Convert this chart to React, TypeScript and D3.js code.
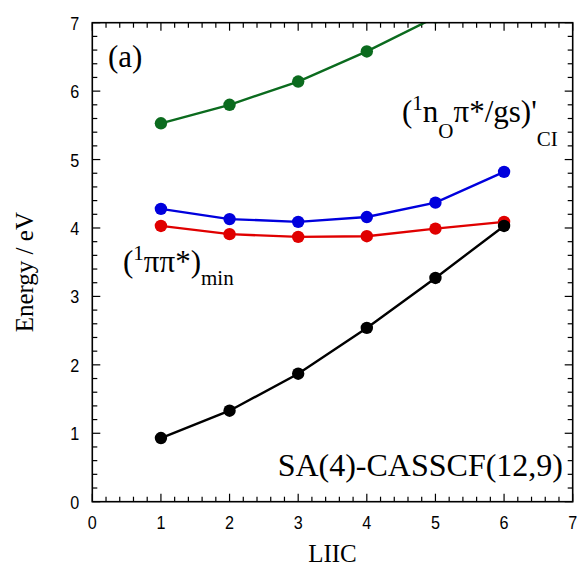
import React from "react";
import * as d3 from "d3";

const liic = [1, 2, 3, 4, 5, 6];
const greenVals = [5.53, 5.8, 6.14, 6.58, 7.08];
const blueVals = [4.28, 4.13, 4.09, 4.16, 4.37, 4.82];
const redVals = [4.03, 3.91, 3.87, 3.88, 3.99, 4.09];
const blackVals = [0.93, 1.33, 1.87, 2.54, 3.27, 4.03];
const xTicks = [0, 1, 2, 3, 4, 5, 6, 7];
const yTicks = [0, 1, 2, 3, 4, 5, 6, 7];

const W = 579, H = 570;
const L = 92.3, R = 572.7, T = 22.7, B = 501.7;

const serif = "'Liberation Serif', 'Times New Roman', serif";
const narrow = "'Liberation Sans Narrow', 'Liberation Sans', Arial, sans-serif";

export default function App() {
  const x = d3.scaleLinear().domain([0, 7]).range([L, R]);
  const y = d3.scaleLinear().domain([0, 7]).range([B, T]);
  const minor = d3.range(0, 7.001, 0.2);

  const series = [
    { vals: greenVals, color: "#0b6b1e" },
    { vals: blueVals, color: "#0000dd" },
    { vals: redVals, color: "#e00000" },
    { vals: blackVals, color: "#000000" },
  ];
  const line = (vals: number[]) =>
    d3.line<number>().x((_, i) => x(liic[i])).y((d) => y(d))(vals) || "";

  return (
    <svg width={W} height={H} style={{ position: "absolute", left: 0, top: 0, background: "#fff" }}>
      <defs>
        <clipPath id="plot">
          <rect x={L} y={T} width={R - L} height={B - T} />
        </clipPath>
      </defs>
      <g stroke="#000" strokeWidth={1.2}>
        {minor.map((v, i) => {
          const major = Math.abs(v - Math.round(v)) < 1e-6;
          const len = major ? 8 : 5;
          return (
            <g key={i}>
              <line x1={x(v)} x2={x(v)} y1={B} y2={B - len} />
              <line x1={x(v)} x2={x(v)} y1={T} y2={T + len} />
              <line x1={L} x2={L + len} y1={y(v)} y2={y(v)} />
              <line x1={R} x2={R - len} y1={y(v)} y2={y(v)} />
            </g>
          );
        })}
      </g>
      <g clipPath="url(#plot)">
        {series.map((s, k) => (
          <g key={k}>
            <path d={line(s.vals)} fill="none" stroke={s.color} strokeWidth={2.4} />
            {s.vals.map((v, i) => (
              <circle key={i} cx={x(liic[i])} cy={y(v)} r={6.2} fill={s.color} />
            ))}
          </g>
        ))}
      </g>
      <rect x={L} y={T} width={R - L} height={B - T} fill="none" stroke="#000" strokeWidth={1.6} />
      <g fontFamily={narrow} fontSize={19} fill="#000">
        {xTicks.map((t) => (
          <g key={t} transform={`translate(${x(t)},${B + 27}) scale(0.85,1)`}>
            <text textAnchor="middle">{t}</text>
          </g>
        ))}
        {yTicks.map((t) => (
          <g key={t} transform={`translate(${L - 13},${y(t) + 7}) scale(0.85,1)`}>
            <text textAnchor="end">{t}</text>
          </g>
        ))}
      </g>
      <g fontFamily={serif} fill="#000">
        <text x={(L + R) / 2} y={562} textAnchor="middle" fontSize={25}>LIIC</text>
        <text transform={`translate(33,${(T + B) / 2 + 10}) rotate(-90)`} textAnchor="middle" fontSize={25}>Energy / eV</text>
        <text x={108} y={67} fontSize={31}>(a)</text>
        <text x={563} y={476} textAnchor="end" fontSize={32}>SA(4)-CASSCF(12,9)</text>
        <text x={402} y={122} fontSize={31}>
          (<tspan fontSize={21} dy={-12}>1</tspan><tspan dy={12}>n</tspan>
          <tspan fontSize={21} dy={16}>O</tspan><tspan dy={-16}>π*/gs)'</tspan>
          <tspan fontSize={21} dy={24}>CI</tspan>
        </text>
        <text x={123} y={272} fontSize={31}>
          (<tspan fontSize={21} dy={-12}>1</tspan><tspan dy={12}>ππ*)</tspan>
          <tspan fontSize={21} dy={13}>min</tspan>
        </text>
      </g>
    </svg>
  );
}
